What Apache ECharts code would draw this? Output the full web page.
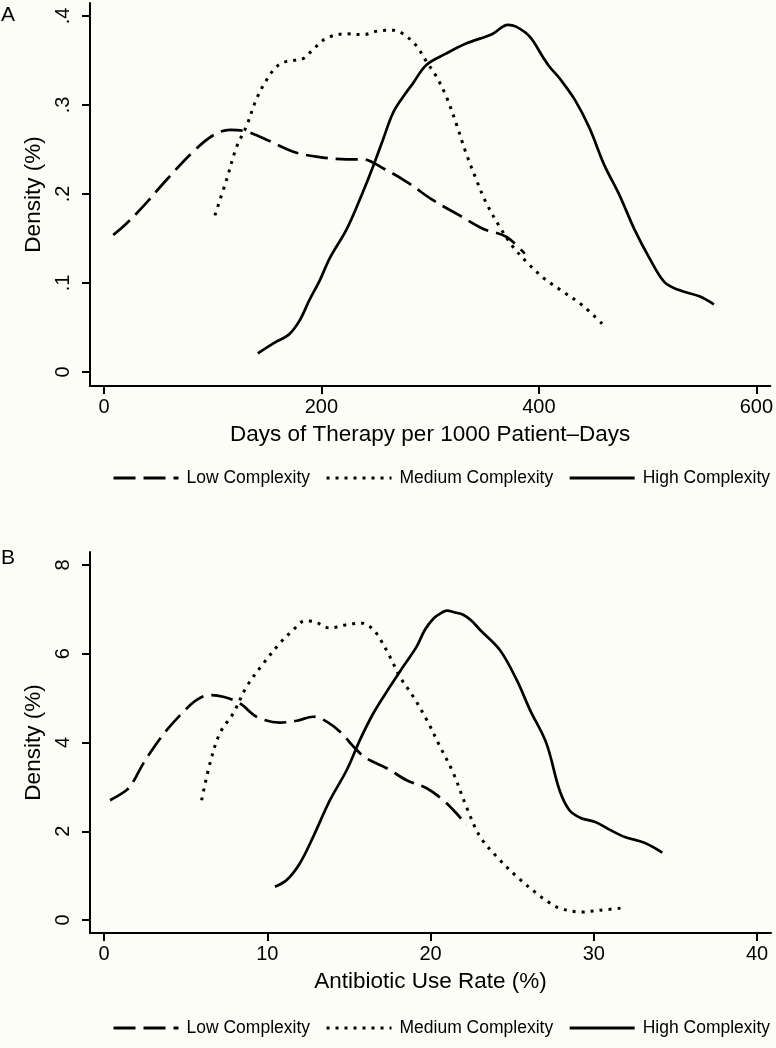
<!DOCTYPE html>
<html><head><meta charset="utf-8">
<script src="https://cdn.jsdelivr.net/npm/echarts@6/dist/echarts.min.js"></script>
<style>html,body{margin:0;padding:0;background:#fdfdf7;}#c{width:776px;height:1048px;}</style>
</head><body><div id="c"></div>
<script>
// ---- data ----
const seriesNames = ['Low Complexity', 'Medium Complexity', 'High Complexity'];
const xTicksA = [0, 200, 400, 600];
const yTicksA = [0, 0.1, 0.2, 0.3, 0.4];
const xTicksB = [0, 10, 20, 30, 40];
const yTicksB = [0, 2, 4, 6, 8];
const xTitleA = 'Days of Therapy per 1000 Patient\u2013Days';
const xTitleB = 'Antibiotic Use Rate (%)';
const yTitle = 'Density (%)';

const lowA = [[8.5,0.154],[20,0.166],[36,0.186],[57.6,0.216],[82,0.2475],[100.5,0.266],[115.8,0.272],[128,0.271],[149.5,0.261],[174,0.2475],[195.4,0.242],[223,0.239],[238,0.239],[256.6,0.229],[278,0.214],[302.6,0.193],[327,0.176],[348.5,0.161],[370,0.152],[387,0.133]];
const medA = [[102,0.176],[112.7,0.216],[122,0.253],[131,0.276],[140,0.306],[149.5,0.328],[158.7,0.343],[168,0.349],[183,0.352],[192,0.362],[204.6,0.375],[223,0.380],[238,0.379],[253.6,0.3835],[266,0.384],[275,0.380],[287,0.367],[296.5,0.349],[305.7,0.332],[315,0.309],[324,0.279],[333,0.246],[342.5,0.216],[351.6,0.190],[364,0.163],[376,0.141],[390,0.122],[405,0.105],[420,0.092],[440,0.075],[460,0.052]];
const highA = [[141.5,0.021],[157,0.033],[170,0.042],[180,0.058],[189,0.081],[198.5,0.103],[207.7,0.128],[223,0.160],[235,0.193],[247.5,0.231],[256.6,0.261],[265.8,0.291],[275,0.309],[284,0.324],[296.5,0.345],[315,0.358],[333,0.369],[351.6,0.377],[357.7,0.380],[371.5,0.390],[379,0.388],[391.4,0.377],[403.7,0.354],[409.8,0.343],[419,0.330],[433,0.306],[446.6,0.274],[460,0.233],[474,0.199],[488,0.160],[501.7,0.128],[515.5,0.101],[529,0.092],[547.6,0.085],[561,0.076]];

const lowB = [[0.37,2.70],[1.39,2.93],[1.8,3.12],[2.41,3.53],[3.23,3.98],[3.84,4.28],[4.86,4.69],[5.68,4.96],[6.49,5.07],[7.3,5.03],[8.33,4.88],[9.35,4.58],[10.78,4.45],[11.8,4.49],[12.82,4.58],[13.64,4.47],[14.46,4.24],[15.48,3.83],[16.09,3.64],[17.32,3.42],[18.54,3.15],[19.77,2.97],[20.78,2.70],[21.6,2.40],[22.2,2.14]];
const medB = [[5.98,2.70],[6.49,3.53],[7.1,4.21],[7.92,4.66],[8.74,5.26],[9.76,5.78],[10.78,6.24],[11.6,6.54],[12.3,6.74],[12.9,6.72],[13.84,6.58],[14.76,6.65],[15.8,6.69],[16.4,6.58],[16.8,6.4],[17.52,5.93],[18.13,5.48],[18.95,5.03],[19.77,4.51],[20.58,3.91],[21.4,3.31],[22.2,2.55],[23.03,1.88],[24.05,1.43],[25.28,0.98],[26.5,0.60],[27.2,0.41],[27.9,0.27],[29.2,0.18],[30.4,0.22],[31.7,0.27]];
const highB = [[10.47,0.75],[11.19,0.90],[12.0,1.28],[12.82,1.88],[13.84,2.70],[14.87,3.38],[15.68,4.06],[16.5,4.66],[17.52,5.26],[18.33,5.71],[19.15,6.16],[19.66,6.54],[20.2,6.8],[20.7,6.93],[21.0,6.97],[21.5,6.93],[22.0,6.88],[22.5,6.75],[23.03,6.54],[24.26,6.08],[25.28,5.41],[26.1,4.73],[27.1,3.98],[27.9,2.93],[28.5,2.48],[29.2,2.30],[30.1,2.21],[31.0,2.03],[31.9,1.87],[33.1,1.74],[34.2,1.52]];

// ---- styles ----
const FONT = 'Liberation Sans, Arial, Helvetica, sans-serif';
const INK = '#000';
const lineStyles = [
  {color: INK, width: 2.7, type: [22, 8]},
  {color: INK, width: 3, type: [3, 6]},
  {color: INK, width: 2.7, type: 'solid'}
];

function xAxis(grid, ticks, min, max, title) {
  return {
    type: 'value', gridIndex: grid, min: min, max: max,
    axisLine: {show: true, onZero: false, lineStyle: {color: INK, width: 2}},
    axisTick: {show: true, customValues: ticks, length: 8, lineStyle: {color: INK, width: 2}},
    axisLabel: {customValues: ticks, color: INK, fontFamily: FONT, fontSize: 20, margin: 11},
    splitLine: {show: false},
    name: title, nameLocation: 'middle', nameGap: 37,
    nameTextStyle: {color: INK, fontFamily: FONT, fontSize: 22.5}
  };
}
function yAxis(grid, ticks, min, max, fmt) {
  return {
    type: 'value', gridIndex: grid, min: min, max: max,
    axisLine: {show: true, onZero: false, lineStyle: {color: INK, width: 2}},
    axisTick: {show: true, customValues: ticks, length: 8, lineStyle: {color: INK, width: 2}},
    axisLabel: {customValues: ticks, color: INK, fontFamily: FONT, fontSize: 20, margin: 17, rotate: 90, formatter: fmt},
    splitLine: {show: false},
    name: yTitle, nameLocation: 'middle', nameGap: 40, nameRotate: 90,
    nameTextStyle: {color: INK, fontFamily: FONT, fontSize: 22.5}
  };
}
function legend(top) {
  return {
    data: seriesNames, left: 107, top: top, width: 720, orient: 'horizontal',
    itemWidth: 65, itemHeight: 14, itemGap: 15, selectedMode: false,
    itemStyle: {opacity: 0, borderWidth: 0},
    lineStyle: {opacity: 1, width: 3},
    textStyle: {color: INK, fontFamily: FONT, fontSize: 17.5, padding: [0, 0, 0, 3]}
  };
}
const fmtA = v => v === 0 ? '0' : String(v).replace(/^0/, '');
const fmtB = v => String(v);

const series = [];
[[lowA, medA, highA], [lowB, medB, highB]].forEach((set, g) => {
  set.forEach((d, i) => {
    series.push({
      type: 'line', name: seriesNames[i], xAxisIndex: g, yAxisIndex: g,
      data: d, symbol: 'none', showSymbol: false, smooth: 0.35, lineStyle: lineStyles[i], itemStyle: {color: INK},
      animation: false
    });
  });
});

const chart = echarts.init(document.getElementById('c'), null, {renderer: 'canvas'});
chart.setOption({
  backgroundColor: '#fdfdf7',
  animation: false,
  title: [
    {text: 'A', left: 1, top: 5, padding: 0, textStyle: {color: INK, fontFamily: FONT, fontSize: 21, fontWeight: 'normal'}},
    {text: 'B', left: 1, top: 548, padding: 0, textStyle: {color: INK, fontFamily: FONT, fontSize: 21, fontWeight: 'normal'}}
  ],
  grid: [
    {left: 90, top: 3, width: 681, height: 383},
    {left: 90, top: 552, width: 681, height: 381}
  ],
  xAxis: [
    xAxis(0, xTicksA, -14 / 1.08833, 600 + 14 / 1.08833, xTitleA),
    xAxis(1, xTicksB, -14 / 16.325, 40 + 14 / 16.325, xTitleB)
  ],
  yAxis: [
    yAxis(0, yTicksA, -14 / 890, 0.4 + 13 / 890, fmtA),
    yAxis(1, yTicksB, -13 / 44.375, 8 + 13 / 44.375, fmtB)
  ],
  legend: [legend(464), legend(1014)],
  series: series
});
</script></body></html>
